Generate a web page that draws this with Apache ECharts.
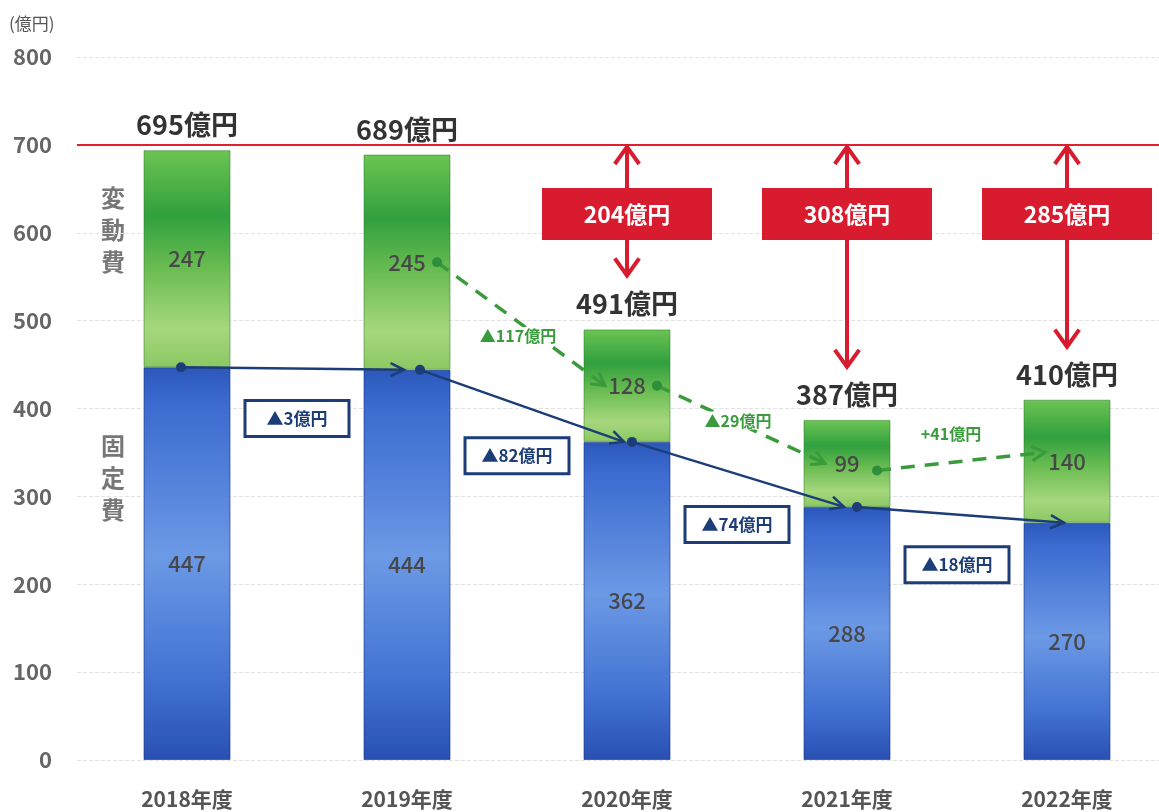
<!DOCTYPE html>
<html>
<head>
<meta charset="utf-8">
<script src="https://cdn.jsdelivr.net/npm/echarts@6/dist/echarts.min.js"></script>
<style>
html,body{margin:0;padding:0;background:#fff;overflow:hidden;width:1159px;height:812px;}
#chart{width:1177px;height:812px;}
</style>
</head>
<body>
<div id="chart"></div>
<script>
// ---- data ----
const categories = ['2018年度', '2019年度', '2020年度', '2021年度', '2022年度'];
const fixedCost = [447, 444, 362, 288, 270];      // 固定費
const variableCost = [247, 245, 128, 99, 140];    // 変動費
const totalCost = [695, 689, 491, 387, 410];      // 合計
const targetLevel = 700;
const gapLabels = [null, null, '204億円', '308億円', '285億円'];
const fixedChangeLabels = ['▲3億円', '▲82億円', '▲74億円', '▲18億円'];       // 2018→2019 ...
const variableChangeLabels = ['▲117億円', '▲29億円', '+41億円'];            // 2019→2020 ...
const yMin = 0, yMax = 800, yInterval = 100;
const yUnit = '(億円)';

const FONT = '"Noto Sans CJK JP", "Noto Sans", sans-serif';
const RED = '#d81b2e';
const NAVY = '#1d3d78';
const GREEN_LINE = '#3a9b3c';

function chevron(tip, from, len, half) {
  const dx = tip[0] - from[0], dy = tip[1] - from[1];
  const d = Math.sqrt(dx * dx + dy * dy) || 1;
  const ux = dx / d, uy = dy / d;
  const rot = (a) => {
    const c = Math.cos(a), s = Math.sin(a);
    return [ux * c - uy * s, ux * s + uy * c];
  };
  const a = rot(half), b = rot(-half);
  return [[tip[0] - a[0] * len, tip[1] - a[1] * len], tip, [tip[0] - b[0] * len, tip[1] - b[1] * len]];
}

// data for the custom series (built from the arrays above)
const fixedSegData = fixedChangeLabels.map((t, i) => [i, fixedCost[i], fixedCost[i + 1]]);
const varMid = variableCost.map((v, i) => fixedCost[i] + v / 2);
const varSegData = variableChangeLabels.map((t, k) => [k + 1, varMid[k + 1], varMid[k + 2]]);
const totalData = totalCost.map((v, i) => [i, v]);
const gapData = [];
gapLabels.forEach((g, i) => { if (g) gapData.push([i, targetLevel, totalCost[i], gapData.length]); });
const gapText = gapLabels.filter(g => g);

const greenLabelOffsets = [[-3, 12], [-3, -4], [-10, -27]];
const greenEndDy = [[0, 0], [0, 0], [7, -9]];
const fixedStartDx = [-6, 13, 5, 10];

const chart = echarts.init(document.getElementById('chart'), null, { renderer: 'canvas' });

const option = {
  animation: false,
  backgroundColor: '#ffffff',
  grid: { left: 77, top: 57, bottom: 52, right: 0, containLabel: false },
  xAxis: {
    type: 'category',
    data: categories,
    axisLine: { show: false },
    axisTick: { show: false },
    axisLabel: { margin: 29, fontSize: 21, fontWeight: 'bold', color: '#555', fontFamily: FONT }
  },
  yAxis: {
    type: 'value',
    min: yMin, max: yMax, interval: yInterval,
    axisLine: { show: false },
    axisTick: { show: false },
    axisLabel: { margin: 25, fontSize: 22, fontWeight: 'bold', color: '#666', fontFamily: FONT },
    splitLine: { lineStyle: { color: '#e2e2e2', width: 1, type: [4, 2] } }
  },
  graphic: [
    { type: 'text', left: 9, top: 15, style: { text: yUnit, font: '17px ' + FONT, fill: '#555' } },
    { type: 'text', x: 113, y: 230, style: { text: '変\n動\n費', font: 'bold 24px ' + FONT, fill: '#777', align: 'center', verticalAlign: 'middle', lineHeight: 32 } },
    { type: 'text', x: 113, y: 478, style: { text: '固\n定\n費', font: 'bold 24px ' + FONT, fill: '#777', align: 'center', verticalAlign: 'middle', lineHeight: 32 } }
  ],
  series: [
    {
      name: '固定費', type: 'bar', stack: 'cost', barWidth: 87,
      data: fixedCost,
      itemStyle: {
        borderColor: 'rgba(20,50,130,0.6)', borderWidth: 1,
        color: new echarts.graphic.LinearGradient(0, 0, 0, 1, [
          { offset: 0, color: '#2c58bb' },
          { offset: 0.1, color: '#3d6bd0' },
          { offset: 0.48, color: '#6c99e5' },
          { offset: 0.8, color: '#4271d2' },
          { offset: 1, color: '#2850b2' }
        ])
      },
      label: { show: true, position: 'inside', fontSize: 22, fontWeight: 500, color: '#474747', fontFamily: FONT }
    },
    {
      name: '変動費', type: 'bar', stack: 'cost', barWidth: 87,
      data: variableCost,
      itemStyle: {
        borderColor: 'rgba(40,120,40,0.5)', borderWidth: 1,
        color: new echarts.graphic.LinearGradient(0, 0, 0, 1, [
          { offset: 0, color: '#6cc452' },
          { offset: 0.3, color: '#31a03e' },
          { offset: 0.55, color: '#6bbd52' },
          { offset: 0.82, color: '#a6d77e' },
          { offset: 1, color: '#8cc863' }
        ])
      },
      label: { show: true, position: 'inside', fontSize: 22, fontWeight: 500, color: '#474747', fontFamily: FONT },
      markLine: {
        silent: true, symbol: ['none', 'none'],
        label: { show: false },
        lineStyle: { color: '#e0202e', width: 2, type: 'solid' },
        data: [{ yAxis: targetLevel }]
      }
    },
    {
      // fixed cost trend line
      type: 'custom', name: 'fixedTrend', z: 10,
      data: fixedSegData,
      renderItem: function (params, api) {
        const i = api.value(0);
        const p0 = api.coord([i, api.value(1)]);
        const p1 = api.coord([i + 1, api.value(2)]);
        const s = [p0[0] + fixedStartDx[params.dataIndex], p0[1]], e = [p1[0] - 3, p1[1]];
        const mx = (p0[0] + p1[0]) / 2, my = (s[1] + e[1]) / 2 + 50;
        const label = fixedChangeLabels[params.dataIndex];
        return {
          type: 'group',
          children: [
            { type: 'line', shape: { x1: s[0], y1: s[1], x2: e[0], y2: e[1] }, style: { stroke: NAVY, lineWidth: 2.5 } },
            { type: 'polyline', shape: { points: chevron(e, s, 15, 0.45) }, style: { stroke: NAVY, lineWidth: 2.5, fill: null } },
            { type: 'circle', shape: { cx: s[0], cy: s[1], r: 5 }, style: { fill: NAVY } },
            { type: 'rect', shape: { x: mx - 52, y: my - 18, width: 104, height: 36 }, style: { fill: '#fff', stroke: NAVY, lineWidth: 3 } },
            { type: 'text', style: { x: mx, y: my, text: label, font: 'bold 17px ' + FONT, fill: NAVY, align: 'center', verticalAlign: 'middle' } }
          ]
        };
      }
    },
    {
      // variable cost trend line
      type: 'custom', name: 'variableTrend', z: 10,
      data: varSegData,
      renderItem: function (params, api) {
        const i = api.value(0);
        const p0 = api.coord([i, api.value(1)]);
        const p1 = api.coord([i + 1, api.value(2)]);
        const dy = greenEndDy[params.dataIndex];
        const s = [p0[0] + 30, p0[1] + dy[0]], e = [p1[0] - 22, p1[1] + dy[1]];
        const off = greenLabelOffsets[params.dataIndex];
        const mx = (s[0] + e[0]) / 2 + off[0], my = (s[1] + e[1]) / 2 + off[1];
        const label = variableChangeLabels[params.dataIndex];
        return {
          type: 'group',
          children: [
            { type: 'line', shape: { x1: s[0], y1: s[1], x2: e[0], y2: e[1] }, style: { stroke: GREEN_LINE, lineWidth: 3.5, lineDash: [14, 10] } },
            { type: 'polyline', shape: { points: chevron(e, s, 15, 0.5) }, style: { stroke: GREEN_LINE, lineWidth: 3, fill: null } },
            { type: 'circle', shape: { cx: s[0], cy: s[1], r: 5 }, style: { fill: '#2e8f3a' } },
            { type: 'text', style: { x: mx, y: my, text: label, font: 'bold 16px ' + FONT, fill: GREEN_LINE, align: 'center', verticalAlign: 'middle', backgroundColor: '#fff', padding: [1, 3] } }
          ]
        };
      }
    },
    {
      // totals above bars
      type: 'custom', name: 'totals', z: 11,
      data: totalData,
      renderItem: function (params, api) {
        const p = api.coord([api.value(0), api.value(1)]);
        return {
          type: 'text',
          style: { x: p[0], y: p[1] - 25, text: api.value(1) + '億円', font: 'bold 27px ' + FONT, fill: '#333', align: 'center', verticalAlign: 'middle' }
        };
      }
    },
    {
      // gaps to target (red double arrows)
      type: 'custom', name: 'gaps', z: 12,
      data: gapData,
      renderItem: function (params, api) {
        const i = api.value(0);
        const top = api.coord([i, api.value(1)]);
        const bot = api.coord([i, api.value(2)]);
        const t = [top[0], top[1] + 2];
        const b = [bot[0], bot[1] - 53];
        const by = top[1] + 69;
        return {
          type: 'group',
          children: [
            { type: 'line', shape: { x1: t[0], y1: t[1] + 2, x2: b[0], y2: b[1] - 2 }, style: { stroke: RED, lineWidth: 4 } },
            { type: 'polyline', shape: { points: chevron(t, b, 21, 0.62) }, style: { stroke: RED, lineWidth: 4, fill: null, lineJoin: 'miter' } },
            { type: 'polyline', shape: { points: chevron(b, t, 21, 0.62) }, style: { stroke: RED, lineWidth: 4, fill: null, lineJoin: 'miter' } },
            { type: 'rect', shape: { x: t[0] - 85, y: by - 26, width: 170, height: 52 }, style: { fill: RED } },
            { type: 'text', style: { x: t[0], y: by, text: gapText[api.value(3)], font: 'bold 23px ' + FONT, fill: '#fff', align: 'center', verticalAlign: 'middle' } }
          ]
        };
      }
    }
  ]
};
chart.setOption(option);
</script>
</body>
</html>
